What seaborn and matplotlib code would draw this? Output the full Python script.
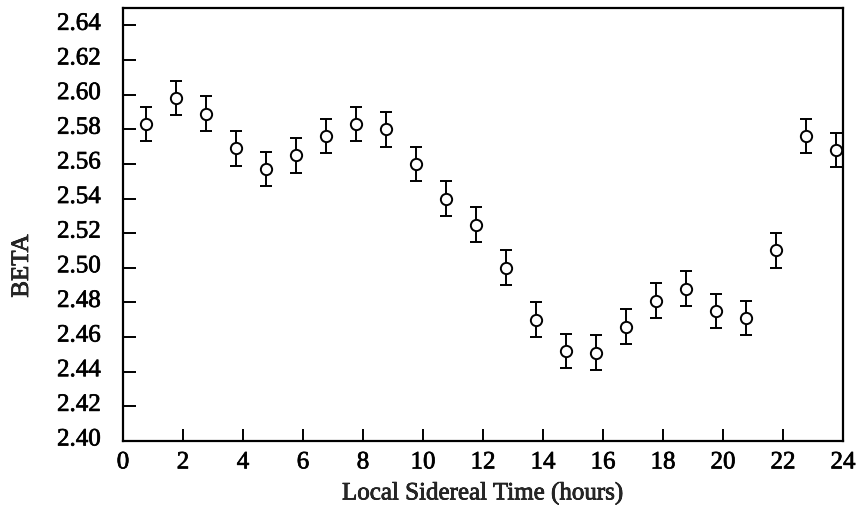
"""
Recreation of the BETA vs local sidereal time plot.
"""

import matplotlib
matplotlib.use("Agg")
import matplotlib.pyplot as plt
import matplotlib.transforms as mtransforms
import matplotlib.patheffects as pe
import seaborn as sns
import pandas as pd

# Data
lst_hours = [0.75, 1.75, 2.75, 3.75, 4.75, 5.75, 6.75, 7.75, 8.75, 9.75, 10.75, 11.75,
             12.75, 13.75, 14.75, 15.75, 16.75, 17.75, 18.75, 19.75, 20.75, 21.75, 22.75, 23.75]
beta = [2.583, 2.598, 2.589, 2.569, 2.557, 2.565, 2.576, 2.583, 2.580, 2.560, 2.540, 2.525,
        2.500, 2.470, 2.452, 2.451, 2.466, 2.481, 2.488, 2.475, 2.471, 2.510, 2.576, 2.568]
beta_err = [0.01, 0.01, 0.01, 0.01, 0.01, 0.01, 0.01, 0.01, 0.01, 0.01, 0.01, 0.01,
            0.01, 0.01, 0.01, 0.01, 0.01, 0.01, 0.01, 0.01, 0.01, 0.01, 0.01, 0.01]
x_ticks = [0, 2, 4, 6, 8, 10, 12, 14, 16, 18, 20, 22, 24]
y_ticks = [2.40, 2.42, 2.44, 2.46, 2.48, 2.50, 2.52, 2.54, 2.56, 2.58, 2.60, 2.62, 2.64]

df = pd.DataFrame({"LST": lst_hours, "BETA": beta, "err": beta_err})

sns.set_style("ticks")
plt.rcParams['font.family'] = ['Liberation Serif', 'DejaVu Serif']

fig = plt.figure(figsize=(8.56, 5.06), dpi=100)
ax = fig.add_axes([123 / 856, 1 - 442 / 506, 720 / 856, 433 / 506])

# Error bars first, then open circle markers on top
ax.errorbar(df["LST"], df["BETA"], yerr=df["err"], fmt='none',
            ecolor='black', elinewidth=1.4, capsize=4.6, capthick=1.4, zorder=2)
sns.scatterplot(data=df, x="LST", y="BETA", ax=ax, marker='o', s=66,
                facecolor='white', edgecolor='black', linewidth=1.4, zorder=3)

ax.set_xlim(0, 24)
ax.set_ylim(2.40, 2.65)
ax.set_xticks(x_ticks)
ax.set_yticks(y_ticks)
ax.set_yticklabels([f"{v:.2f}" for v in y_ticks])

ax.tick_params(axis='both', direction='in', length=9, width=1.4,
               labelsize=18, colors='black', top=False, right=False)
ax.tick_params(axis='y', pad=16)
ax.tick_params(axis='x', pad=7.5)

# slightly heavier text, like the scanned original
heavy = [pe.withStroke(linewidth=0.5, foreground='black')]

# y tick labels sit slightly above their ticks in the original
offset = mtransforms.ScaledTranslation(0, 4 / 100, fig.dpi_scale_trans)
for lbl in ax.get_yticklabels():
    lbl.set_transform(lbl.get_transform() + offset)
    lbl.set_path_effects(heavy)
for lbl in ax.get_xticklabels():
    lbl.set_path_effects(heavy)

for side in ['left', 'right', 'top', 'bottom']:
    ax.spines[side].set_visible(True)
    ax.spines[side].set_linewidth(1.6)
    ax.spines[side].set_color('black')

ax.set_xlabel("Local Sidereal Time (hours)", fontsize=18, labelpad=6,
              path_effects=heavy)
ax.set_ylabel("")
fig.text(22 / 856, 1 - 267 / 506, "BETA", rotation=90, fontsize=18,
         ha='center', va='center', path_effects=heavy)

fig.savefig("out.png", dpi=100)
